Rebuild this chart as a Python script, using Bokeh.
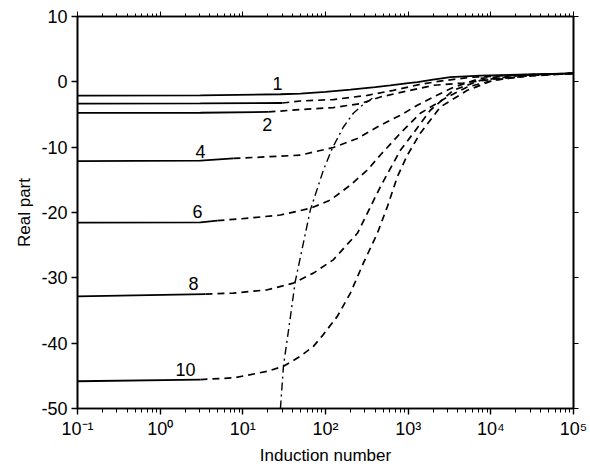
from bokeh.plotting import figure
from bokeh.models import LinearAxis, LogAxis, CustomJSTickFormatter, FixedTicker, Range1d
from bokeh.core.properties import value
from bokeh.embed import file_html
from bokeh.resources import INLINE

FONT = "Liberation Sans"

# Real part versus induction number, one curve per contrast value.
# Each curve is solid up to its *_solid_end abscissa and dashed afterwards.
c1_x = [0.1, 3.07, 28.5, 49.8, 100, 200, 400, 609, 1000, 1292, 2000, 3236, 7464, 30000, 100000]
c1_y = [-2.10, -2.06, -1.90, -1.80, -1.55, -1.19, -0.80, -0.53, -0.20, -0.03, 0.35, 0.73, 0.95, 1.15, 1.30]
c1_solid_end = 100000

c15_x = [0.1, 3.07, 30, 49.8, 124, 321, 662, 1403, 2449, 5650, 22700, 100000]
c15_y = [-3.33, -3.31, -3.24, -2.93, -2.72, -2.06, -1.30, -0.38, 0.12, 0.69, 1.07, 1.30]
c15_solid_end = 30

c2_x = [0.1, 3.07, 20.4, 49.8, 124, 264, 461, 977, 2018, 4645, 12000, 39800, 100000]
c2_y = [-4.76, -4.73, -4.61, -4.24, -3.94, -3.33, -2.32, -1.40, -0.53, -0.18, 0.49, 0.99, 1.30]
c2_solid_end = 20.4

c4_x = [0.1, 3.07, 7.7, 49.8, 124, 243, 461, 805, 1292, 2018, 3515, 7464, 22700, 100000]
c4_y = [-12.14, -12.06, -11.73, -11.22, -10.05, -8.67, -6.64, -5.11, -3.59, -2.32, -0.84, 0.53, 1.07, 1.30]
c4_solid_end = 7.7

c6_x = [0.1, 3.07, 4.93, 12.4, 28.5, 65.6, 115, 200, 321, 461, 805, 1403, 2978, 5200, 10700, 30000, 100000]
c6_y = [-21.56, -21.50, -21.25, -20.84, -20.38, -19.36, -18.09, -15.80, -13.50, -11.20, -7.86, -4.81, -2.32, -0.79, 0.23, 1.00, 1.30]
c6_solid_end = 4.93

c8_x = [0.1, 3.53, 7.7, 19.8, 40.9, 71.4, 124, 243, 461, 805, 1156, 1854, 3515, 7464, 22700, 100000]
c8_y = [-32.85, -32.49, -32.34, -31.83, -30.80, -29.28, -27.25, -23.18, -16.06, -10.46, -7.86, -4.35, -1.30, 0.23, 1.00, 1.30]
c8_solid_end = 3.53

c10_x = [0.1, 3.07, 7.7, 12.4, 19.8, 31, 49.8, 71.4, 91.9, 139, 200, 287, 424, 560, 740, 977, 1403, 2449, 5200, 10700, 30000, 100000]
c10_y = [-45.83, -45.57, -45.31, -44.81, -44.30, -43.54, -42.00, -40.49, -38.85, -35.90, -32.34, -27.76, -23.17, -19.11, -14.53, -11.22, -7.86, -3.85, -1.30, 0.23, 1.00, 1.30]
c10_solid_end = 3.07

# Locus drawn dash-dotted across the family of curves
locus_x = [28.5, 31, 37.7, 43, 65.6, 94.4, 121, 164, 217, 279, 369]
locus_y = [-50.0, -43.5, -35.9, -30.6, -19.6, -13.5, -10.15, -6.95, -4.81, -3.59, -2.52]

# Curve annotations
label_text = ["1", "2", "4", "6", "8", "10"]
label_x = [26.2, 19.8, 3.07, 2.83, 2.53, 2.02]
label_y = [-0.2, -6.6, -10.6, -19.9, -30.8, -44.0]

x_ticks = [0.1, 1, 10, 100, 1000, 10000, 100000]
x_minor = [m * 10 ** k for k in range(-1, 5) for m in range(2, 10)]
y_ticks = [10, 0, -10, -20, -30, -40, -50]

p = figure(width=590, height=468, x_axis_type="log",
           x_range=Range1d(0.1, 1e5), y_range=Range1d(-50, 10),
           output_backend="svg", toolbar_location=None,
           min_border_left=77, min_border_right=17,
           min_border_top=16, min_border_bottom=60)
p.xgrid.visible = False
p.ygrid.visible = False
p.outline_line_color = "black"
p.outline_line_width = 1.6
p.background_fill_color = "white"
p.border_fill_color = "white"

curves = [
    (c1_x, c1_y, c1_solid_end),
    (c15_x, c15_y, c15_solid_end),
    (c2_x, c2_y, c2_solid_end),
    (c4_x, c4_y, c4_solid_end),
    (c6_x, c6_y, c6_solid_end),
    (c8_x, c8_y, c8_solid_end),
    (c10_x, c10_y, c10_solid_end),
]
for xs, ys, xe in curves:
    sx = [x for x in xs if x <= xe]
    sy = [y for x, y in zip(xs, ys) if x <= xe]
    p.line(sx, sy, line_color="black", line_width=1.8)
    dx = [x for x in xs if x >= xe]
    dy = [y for x, y in zip(xs, ys) if x >= xe]
    if len(dx) > 1:
        p.line(dx, dy, line_color="black", line_width=1.7, line_dash="7 5")

p.line(locus_x, locus_y, line_color="black", line_width=1.4, line_dash="8 4 2 4")

p.text(x=label_x, y=label_y, text=label_text, text_font=value(FONT),
       text_font_size="18px", text_align="center", text_baseline="middle",
       text_color="black")

sup_formatter = CustomJSTickFormatter(code="""
const sup = {'-': '\\u207b', '0': '\\u2070', '1': '\\u00b9', '2': '\\u00b2', '3': '\\u00b3',
             '4': '\\u2074', '5': '\\u2075', '6': '\\u2076', '7': '\\u2077', '8': '\\u2078', '9': '\\u2079'};
const e = Math.round(Math.log(tick) / Math.LN10);
return '10' + String(e).split('').map(c => sup[c]).join('');
""")
plain_formatter = CustomJSTickFormatter(code="return tick.toFixed(0);")

xa = p.xaxis[0]
xa.ticker = FixedTicker(ticks=x_ticks, minor_ticks=x_minor)
xa.formatter = sup_formatter
xa.axis_label = "Induction number"
ya = p.yaxis[0]
ya.ticker = FixedTicker(ticks=y_ticks)
ya.formatter = plain_formatter
ya.axis_label = "Real part"

for ax in (xa, ya):
    ax.axis_line_width = 1.6
    ax.axis_line_color = "black"
    ax.major_tick_line_color = "black"
    ax.major_tick_line_width = 1.4
    ax.minor_tick_line_color = "black"
    ax.major_tick_out = 6
    ax.major_tick_in = 0
    ax.minor_tick_out = 4
    ax.minor_tick_in = 0
    ax.major_label_text_font = FONT
    ax.major_label_text_font_size = "18px"
    ax.major_label_text_color = "black"
    ax.axis_label_text_font = FONT
    ax.axis_label_text_font_size = "17px"
    ax.axis_label_text_font_style = "normal"
    ax.axis_label_text_color = "black"
    ax.major_label_standoff = 4
    ax.axis_label_standoff = 4
ya.minor_tick_out = 0

# Frame axes on top and right: ticks only, labels hidden
top = LogAxis(ticker=FixedTicker(ticks=x_ticks, minor_ticks=x_minor),
              major_label_text_font_size="2px", major_label_text_alpha=0,
              major_label_standoff=0,
              major_tick_out=5, major_tick_in=0,
              minor_tick_out=3, minor_tick_in=0, axis_line_width=1.6)
p.add_layout(top, "above")
right = LinearAxis(ticker=FixedTicker(ticks=y_ticks),
                   major_label_text_font_size="2px", major_label_text_alpha=0,
                   major_label_standoff=0,
                   major_tick_out=5, major_tick_in=0, minor_tick_out=0, axis_line_width=1.6)
p.add_layout(right, "right")

open("out.html", "w").write(file_html(p, INLINE))
